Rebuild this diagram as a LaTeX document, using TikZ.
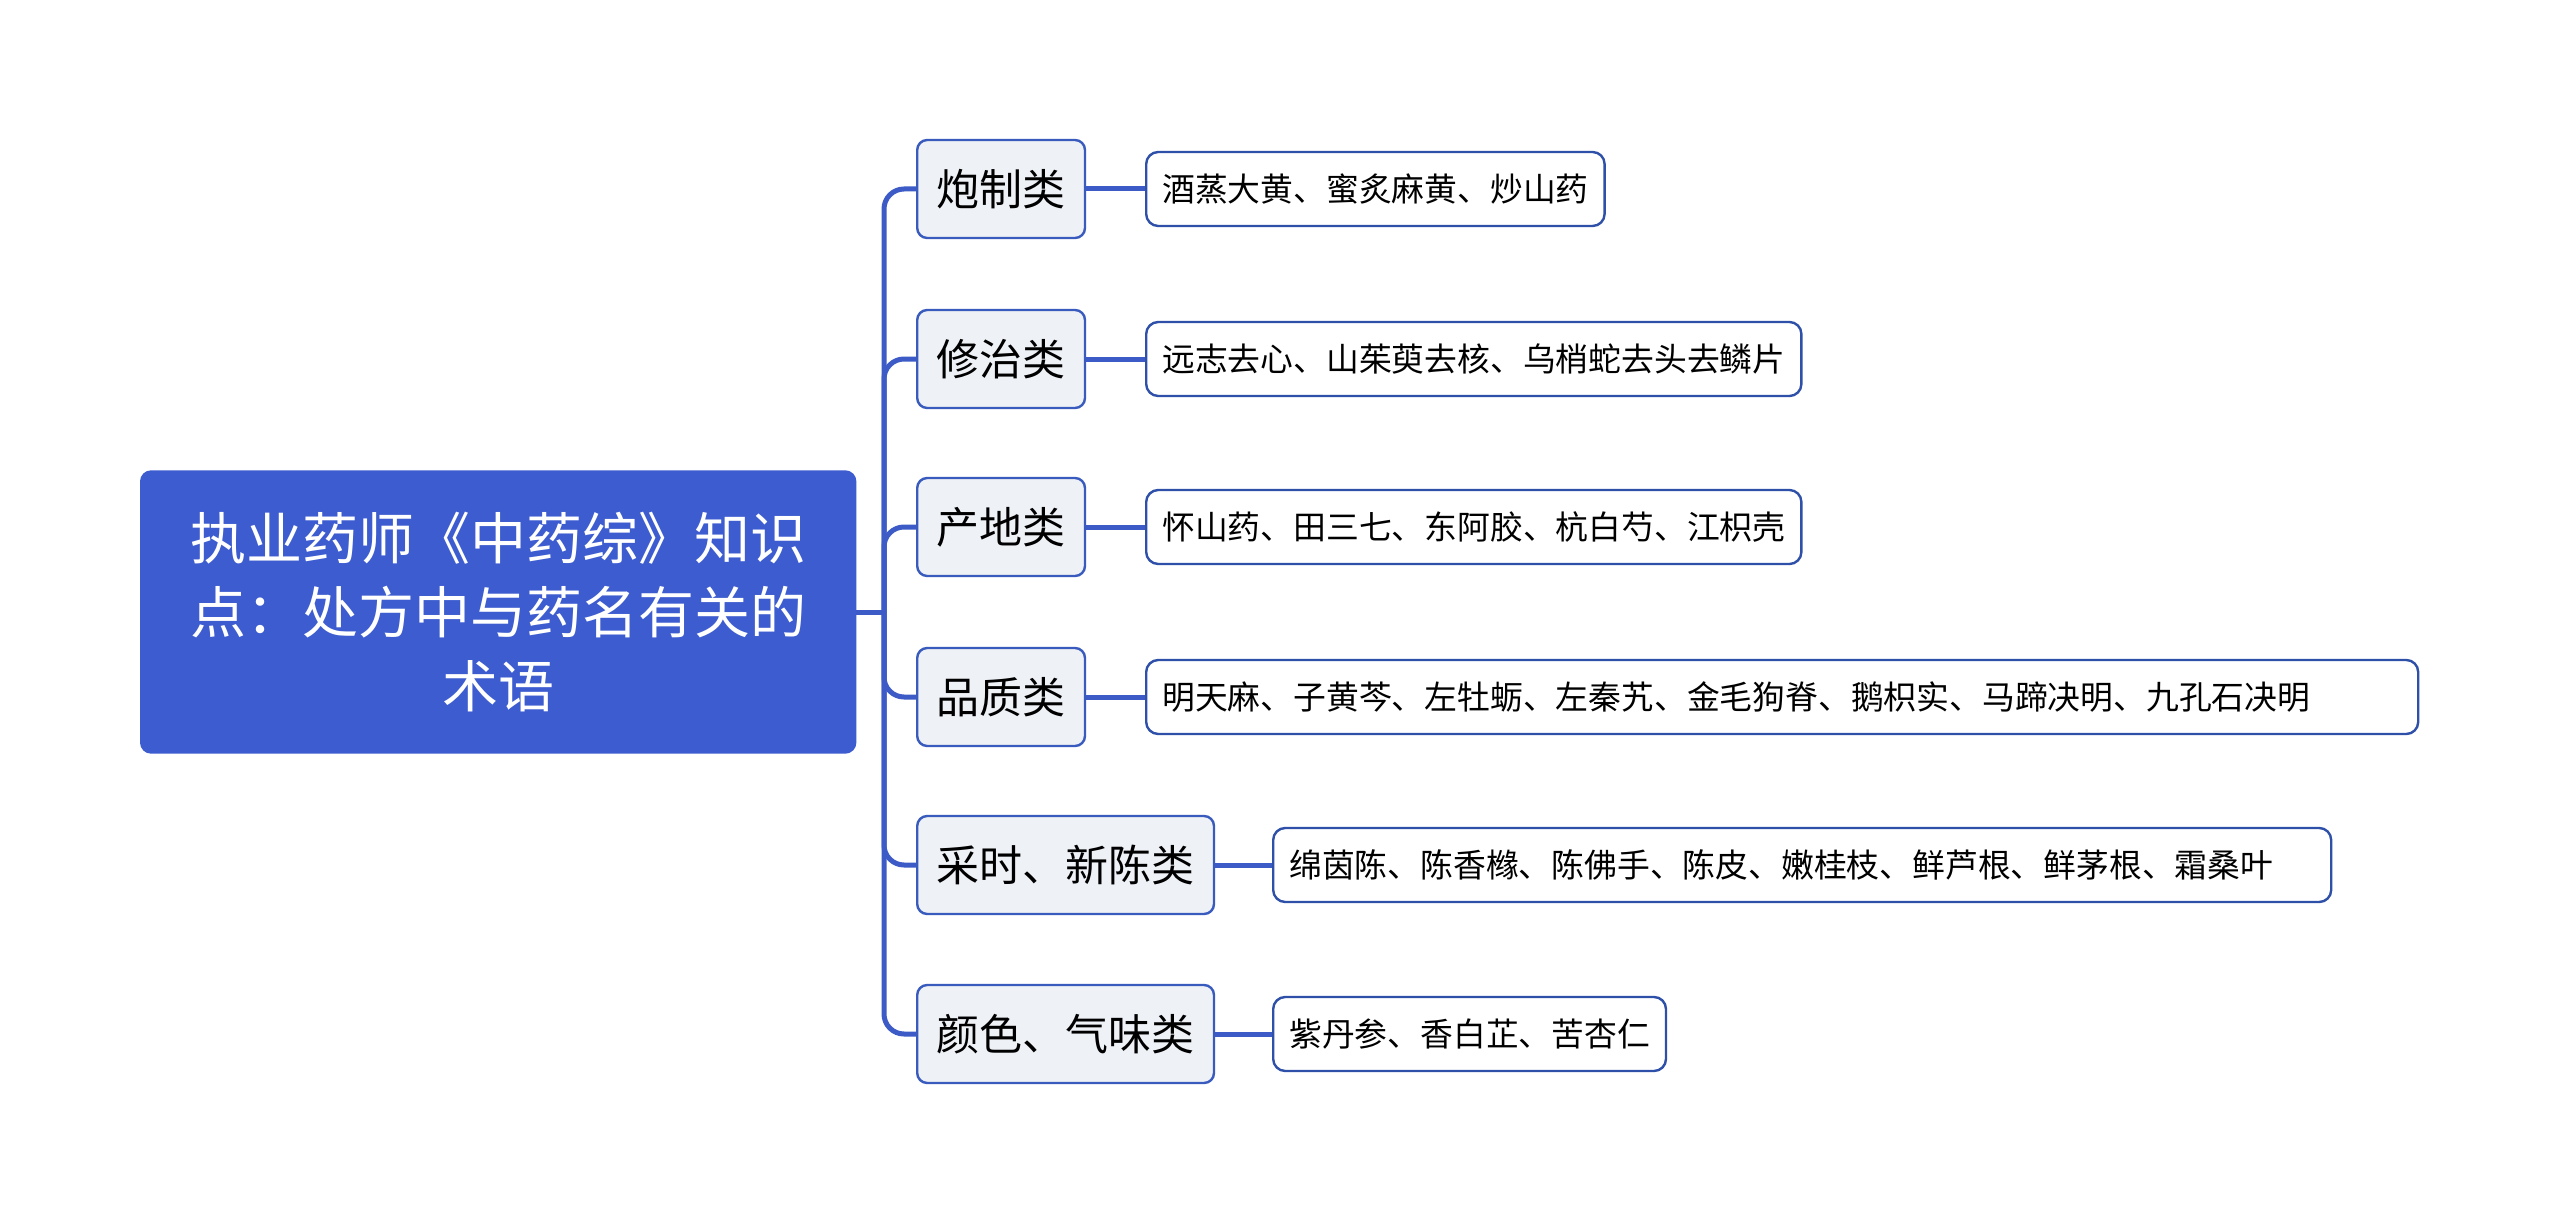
\documentclass[tikz,border=0pt]{standalone}
\usepackage{fontspec}
\setmainfont{Noto Sans CJK SC}
\definecolor{rootblue}{HTML}{3C5CCF}
\definecolor{linkblue}{HTML}{3D5BC6}
\definecolor{catfill}{HTML}{EEF1F6}
\definecolor{catline}{HTML}{3A5BBE}
\definecolor{leafline}{HTML}{2F50A8}
\begin{document}
\begin{tikzpicture}[
        x=0.5pt, y=-0.5pt,
        box/.style={draw, line width=1.2pt, inner ysep=0pt, anchor=west},
        topic/.style={box, rounded corners=5pt, fill=rootblue, draw=rootblue, text=white, align=center,
            font=\fontsize{28}{37}\selectfont, minimum width=357pt, minimum height=140.5pt},
        cat/.style={box, rounded corners=5pt, fill=catfill, draw=catline, inner xsep=9.7pt,
            font=\fontsize{21.5}{26}\selectfont, minimum height=49pt},
        leaf/.style={box, rounded corners=6pt, fill=white, draw=leafline, inner xsep=8pt,
            font=\fontsize{16.4}{20}\selectfont, minimum height=37pt},
        link/.style={draw=linkblue, line width=2.5pt}
    ]
        \fill[white] (0,0) rectangle (2560,1225);

        \node[topic] (root) at (140, 612) {执业药师《中药综》知识\\点：处方中与药名有关的\\术语};

        \node[cat] (prep) at (916, 189) {炮制类};
        \node[cat] (trim) at (916, 359) {修治类};
        \node[cat] (origin) at (916, 527) {产地类};
        \node[cat] (quality) at (916, 697) {品质类};
        \node[cat] (harvest) at (916, 865) {采时、新陈类};
        \node[cat] (color) at (916, 1034) {颜色、气味类};

        \node[leaf] (prep-d) at (1145, 189) {酒蒸大黄、蜜炙麻黄、炒山药};
        \node[leaf] (trim-d) at (1145, 359) {远志去心、山茱萸去核、乌梢蛇去头去鳞片};
        \node[leaf] (origin-d) at (1145, 527) {怀山药、田三七、东阿胶、杭白芍、江枳壳};
        \node[leaf, text width=620pt, align=left] (quality-d) at (1145, 697) {明天麻、子黄芩、左牡蛎、左秦艽、金毛狗脊、鹅枳实、马蹄决明、九孔石决明};
        \node[leaf, text width=513pt, align=left] (harvest-d) at (1272, 865) {绵茵陈、陈香橼、陈佛手、陈皮、嫩桂枝、鲜芦根、鲜茅根、霜桑叶};
        \node[leaf] (color-d) at (1272, 1034) {紫丹参、香白芷、苦杏仁};

        \coordinate (hub) at (884, 612);
        \draw[link] (root.east) -- (hub);
        \foreach \c in {prep, trim, origin, quality, harvest, color} {
            \draw[link, rounded corners=10pt] (hub) |- (\c.west);
            \draw[link] (\c.east) -- (\c-d.west);
        }
    \end{tikzpicture}
\end{document}
